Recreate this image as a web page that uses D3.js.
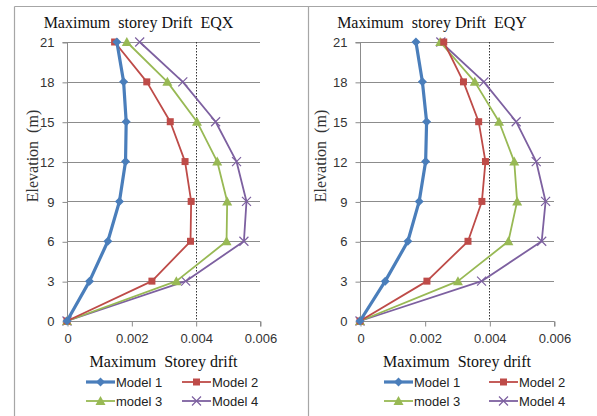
<!DOCTYPE html>
<html><head><meta charset="utf-8">
<script src="https://cdn.jsdelivr.net/npm/d3@7"></script>
<style>
html,body{margin:0;padding:0;background:#fff;}
svg{display:block;}
</style></head>
<body>
<svg id="chart" width="597" height="416"></svg>
<script>
// ---- Data ----
const elevations = [0, 3, 6, 9, 12, 15, 18, 21];
const seriesNames = ["Model 1", "Model 2", "model 3", "Model 4"];
const yTicks = [0, 3, 6, 9, 12, 15, 18, 21];
const xTicks = [0, 0.002, 0.004, 0.006];
const xTickLabels = ["0", "0.002", "0.004", "0.006"];
const titles = ["Maximum  storey Drift  EQX", "Maximum  storey Drift  EQY"];
const xTitle = "Maximum  Storey drift";
const yTitle = "Elevation  (m)";
const limitDrift = 0.004;

// EQX drifts (elevation 0..21)
const eqxModel1 = [0, 0.00070, 0.00127, 0.00163, 0.00182, 0.00184, 0.00176, 0.00155];
const eqxModel2 = [0, 0.00264, 0.00384, 0.00386, 0.00367, 0.00321, 0.00248, 0.00148];
const eqxModel3 = [0, 0.00340, 0.00496, 0.00498, 0.00467, 0.00404, 0.00312, 0.00186];
const eqxModel4 = [0, 0.00369, 0.00550, 0.00558, 0.00527, 0.00462, 0.00360, 0.00226];
// EQY drifts
const eqyModel1 = [0, 0.00078, 0.00148, 0.00183, 0.00203, 0.00206, 0.00193, 0.00173];
const eqyModel2 = [0, 0.00207, 0.00334, 0.00377, 0.00388, 0.00367, 0.00320, 0.00259];
const eqyModel3 = [0, 0.00303, 0.00459, 0.00486, 0.00477, 0.00430, 0.00355, 0.00248];
const eqyModel4 = [0, 0.00376, 0.00562, 0.00574, 0.00545, 0.00483, 0.00383, 0.00250];

const colors = ["#4a7ebb", "#be4b48", "#98b954", "#7d60a0"];
const widths = [3.2, 1.8, 1.8, 1.8];
const markers = ["diamond", "square", "triangle", "x"];

const panels = [
  {x0: 67, x1: 260, title: titles[0], series: [eqxModel1, eqxModel2, eqxModel3, eqxModel4],
   yLabelX: 38, legendX: [86, 182]},
  {x0: 360, x1: 554, title: titles[1], series: [eqyModel1, eqyModel2, eqyModel3, eqyModel4],
   yLabelX: 326, legendX: [384, 489]}
];
const yTop = 42, yBot = 321;

const svg = d3.select("#chart");
svg.append("rect").attr("width", 597).attr("height", 416).attr("fill", "#fff");

// outer frames
const frame = svg.append("g").attr("stroke", "#a6a6a6").attr("fill", "none").attr("stroke-width", 1.2);
frame.append("line").attr("x1", 14.5).attr("x2", 597).attr("y1", 6.5).attr("y2", 6.5);
frame.append("line").attr("x1", 14.5).attr("x2", 14.5).attr("y1", 6.5).attr("y2", 416);
frame.append("line").attr("x1", 308.5).attr("x2", 308.5).attr("y1", 6.5).attr("y2", 416);

function markerPath(type) {
  if (type === "diamond") return "M0,-4.5L4.5,0L0,4.5L-4.5,0Z";
  if (type === "square") return "M-3.5,-3.5H3.5V3.5H-3.5Z";
  if (type === "triangle") return "M0,-5L5,4H-5Z";
  return "M-4.5,-4.5L4.5,4.5M-4.5,4.5L4.5,-4.5";
}
function drawMarker(g, type, color, x, y) {
  const p = g.append("path").attr("d", markerPath(type)).attr("transform", `translate(${x},${y})`);
  if (type === "x") p.attr("fill", "none").attr("stroke", color).attr("stroke-width", 1.2);
  else p.attr("fill", color).attr("stroke", "none");
}

panels.forEach(P => {
  const x = d3.scaleLinear().domain([0, 0.006]).range([P.x0, P.x1]);
  const y = d3.scaleLinear().domain([0, 21]).range([yBot, yTop]);
  const g = svg.append("g");

  // gridlines
  g.append("g").selectAll("line").data(yTicks.filter(t => t > 0)).join("line")
    .attr("x1", P.x0).attr("x2", P.x1)
    .attr("y1", d => Math.round(y(d)) + 0.5).attr("y2", d => Math.round(y(d)) + 0.5)
    .attr("stroke", "#8c8c8c").attr("stroke-width", 1);

  // y axis
  const yAxis = d3.axisLeft(y).tickValues(yTicks).tickSize(5).tickPadding(8).tickFormat(d3.format("d"));
  const ya = g.append("g").attr("transform", `translate(${P.x0 + 0.5},0.5)`).call(yAxis);
  ya.select(".domain").attr("stroke", "#8c8c8c").attr("d", `M-5,${y(21)}H0V${y(0)}`);
  ya.selectAll(".tick line").attr("stroke", "#8c8c8c");
  ya.selectAll(".tick text").attr("font-family", "Liberation Sans, Arial, sans-serif")
    .attr("font-size", 13).attr("fill", "#333");

  // x axis
  const xAxis = d3.axisBottom(x).tickValues(xTicks).tickSize(5).tickPadding(7)
    .tickFormat((d, i) => xTickLabels[i]);
  const xa = g.append("g").attr("transform", `translate(0.5,${yBot + 0.5})`).call(xAxis);
  xa.select(".domain").attr("stroke", "#8c8c8c").attr("d", `M${x(0)},0H${x(0.006)}V5`);
  xa.selectAll(".tick line").attr("stroke", "#8c8c8c");
  xa.selectAll(".tick text").attr("font-family", "Liberation Sans, Arial, sans-serif")
    .attr("font-size", 13).attr("fill", "#333");

  // limit dotted line
  g.append("line").attr("x1", Math.round(x(limitDrift)) + 0.5).attr("x2", Math.round(x(limitDrift)) + 0.5)
    .attr("y1", y(21)).attr("y2", y(0))
    .attr("stroke", "#333").attr("stroke-width", 1).attr("stroke-dasharray", "1.5,1.5");

  // series
  const line = d3.line().x(d => x(d[0])).y(d => y(d[1]));
  [3, 2, 1, 0].forEach(si => {
    const data = P.series[si].map((v, i) => [v, elevations[i]]);
    g.append("path").datum(data).attr("d", line).attr("fill", "none")
      .attr("stroke", colors[si]).attr("stroke-width", widths[si]).attr("stroke-linejoin", "round");
    data.forEach(d => drawMarker(g, markers[si], colors[si], x(d[0]), y(d[1])));
  });

  // title
  g.append("text").attr("x", (P.x0 + P.x1) / 2 - 25).attr("y", 28).attr("text-anchor", "middle")
    .attr("font-family", "Liberation Serif, Times New Roman, serif").attr("font-size", 16)
    .attr("fill", "#111").style("white-space", "pre").text(P.title);

  // x title
  g.append("text").attr("x", (P.x0 + P.x1) / 2).attr("y", 367).attr("text-anchor", "middle")
    .attr("font-family", "Liberation Serif, Times New Roman, serif").attr("font-size", 16)
    .attr("fill", "#111").style("white-space", "pre").text(xTitle);

  // y title
  g.append("text").attr("transform", `translate(${P.yLabelX},156) rotate(-90)`).attr("text-anchor", "middle")
    .attr("font-family", "Liberation Serif, Times New Roman, serif").attr("font-size", 16)
    .attr("fill", "#333").style("white-space", "pre").text(yTitle);

  // legend
  const lg = g.append("g");
  seriesNames.forEach((name, i) => {
    const lx = P.legendX[i % 2];
    const ly = i < 2 ? 382 : 401;
    lg.append("line").attr("x1", lx).attr("x2", lx + 29).attr("y1", ly).attr("y2", ly)
      .attr("stroke", colors[i]).attr("stroke-width", widths[i]);
    drawMarker(lg, markers[i], colors[i], lx + 14.5, ly);
    lg.append("text").attr("x", lx + 30).attr("y", ly + 4.5)
      .attr("font-family", "Liberation Sans, Arial, sans-serif").attr("font-size", 13)
      .attr("fill", "#222").text(name);
  });
});
</script>
</body></html>
